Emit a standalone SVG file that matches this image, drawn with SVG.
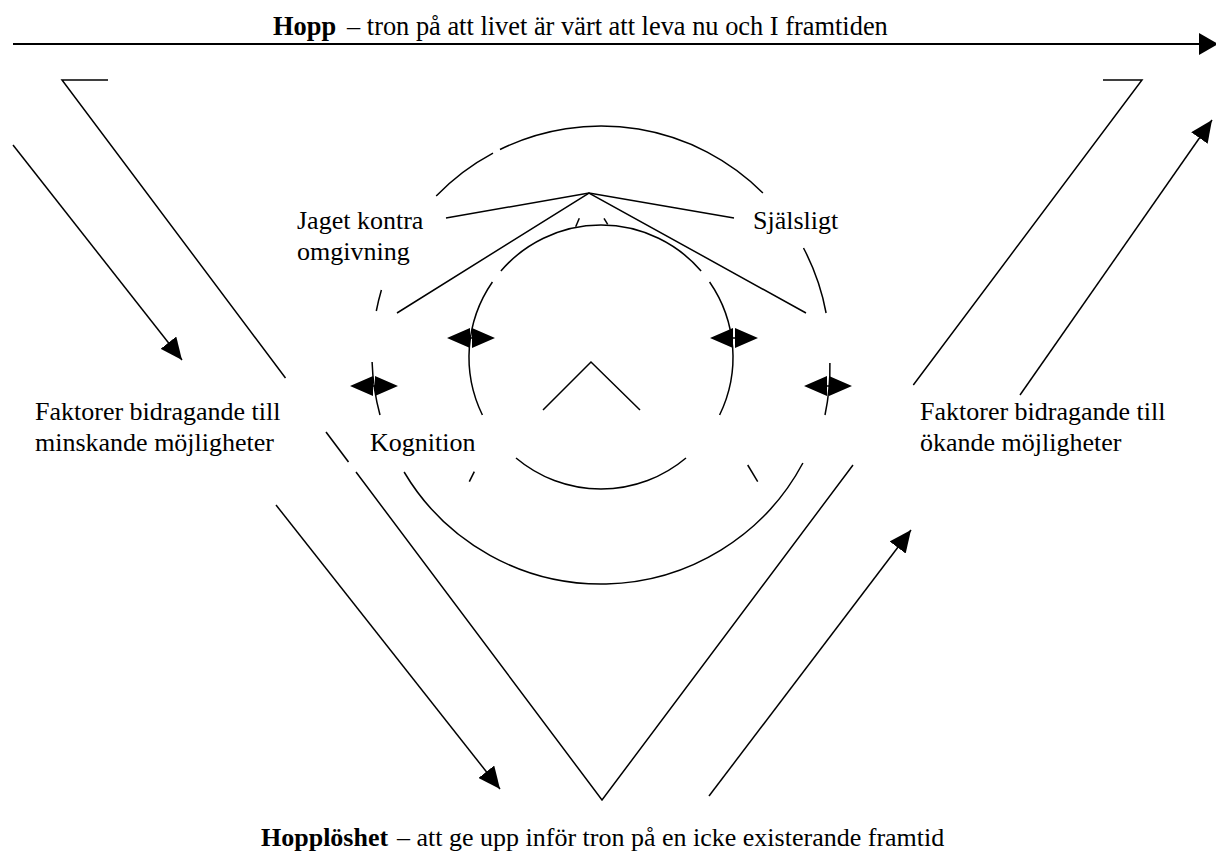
<svg xmlns="http://www.w3.org/2000/svg" width="1216" height="852" viewBox="0 0 1216 852">
<style>
  .ln{fill:none;stroke:#000;stroke-width:1.5;stroke-linecap:butt;stroke-linejoin:miter}
  .hd{fill:#000;stroke:none}
  .t{font-family:"Liberation Serif","Times New Roman",serif;font-size:26px;fill:#000}
  .b{font-weight:bold}
</style>
<defs>
  <marker id="ah" viewBox="0 0 22 20" refX="22" refY="10" markerWidth="22" markerHeight="20" markerUnits="userSpaceOnUse" orient="auto">
    <path d="M0,0 L22,10 L0,20 Z" fill="#000"/>
  </marker>
  <g id="dbl">
    <path d="M-24,0 L-1,-10 L-1,10 Z M24,0 L1,-10 L1,10 Z" class="hd"/>
    <line x1="-12" y1="0" x2="12" y2="0" class="ln"/>
  </g>
</defs>
<rect width="1216" height="852" fill="#fff"/>

<g id="hope-axis">
  <line x1="13" y1="44" x2="1200" y2="44" style="fill:none;stroke:#000;stroke-width:2"/>
  <path d="M1199,33 L1218,44 L1199,55 Z" class="hd"/>
  <text class="t" x="273" y="35" style="font-size:26.4px"><tspan class="b">Hopp</tspan><tspan x="347">– tron på att livet är värt att leva nu och I framtiden</tspan></text>
</g>

<g id="hopelessness">
  <text class="t" x="261" y="846"><tspan class="b">Hopplöshet</tspan><tspan x="397">– att ge upp inför tron på en icke existerande framtid</tspan></text>
</g>

<g id="v-shape">
  <polyline class="ln" points="108,80 62,80 285.5,378"/>
  <line class="ln" x1="326" y1="432" x2="348.5" y2="462"/>
  <polyline class="ln" points="356,472 602,800 853,465"/>
  <polyline class="ln" points="913.3,385 1142,80 1103,80"/>
</g>

<g id="outer-circle">
  <path class="ln" d="M436.2,196 A229,229 0 0 1 493,153.1"/>
  <path class="ln" d="M500,149.5 A229,229 0 0 1 762.9,193"/>
  <path class="ln" d="M803.5,248 A229,229 0 0 1 826.1,313"/>
  <path class="ln" d="M829.9,363 A229,229 0 0 1 825,415"/>
  <path class="ln" d="M802.9,463 A229,229 0 0 1 404.1,472"/>
  <path class="ln" d="M380,415 A229,229 0 0 1 372.1,362"/>
  <path class="ln" d="M376.3,311 A229,229 0 0 1 381.4,290"/>
</g>

<g id="inner-circle">
  <path class="ln" d="M500.9,271 A132,132 0 0 1 701.1,271"/>
  <path class="ln" d="M482.4,415 A132,132 0 0 1 492.4,282"/>
  <path class="ln" d="M709.6,282 A132,132 0 0 1 719.6,415"/>
  <path class="ln" d="M686,458 A132,132 0 0 1 516,458"/>
  <line class="ln" x1="575.7" y1="226.7" x2="579.3" y2="218.3"/>
  <line class="ln" x1="604" y1="218.3" x2="607.7" y2="224.3"/>
  <line class="ln" x1="469.3" y1="481.7" x2="474.3" y2="471.7"/>
  <line class="ln" x1="747.7" y1="465" x2="757.7" y2="481.7"/>
  <polyline class="ln" points="543,410 591,362 640,410"/>
</g>

<g id="labels">
  <text class="t" x="297" y="229">Jaget kontra</text>
  <text class="t" x="297" y="260">omgivning</text>
  <text class="t" x="753" y="229">Själsligt</text>
  <text class="t" x="370" y="451">Kognition</text>
  <text class="t" x="35" y="420">Faktorer bidragande till</text>
  <text class="t" x="35" y="451">minskande möjligheter</text>
  <text class="t" x="920" y="420">Faktorer bidragande till</text>
  <text class="t" x="920" y="451">ökande möjligheter</text>
</g>

<g id="connectors">
  <polyline class="ln" points="446,218 589,193 734,218"/>
  <polyline class="ln" points="397,313 589,193 806,313"/>
  <line class="ln" x1="13" y1="145" x2="182" y2="360" marker-end="url(#ah)"/>
  <line class="ln" x1="276" y1="505" x2="500" y2="789" marker-end="url(#ah)"/>
  <line class="ln" x1="709" y1="796" x2="911" y2="530" marker-end="url(#ah)"/>
  <line class="ln" x1="1020" y1="395" x2="1212" y2="120" marker-end="url(#ah)"/>
  <use href="#dbl" x="471" y="338"/>
  <use href="#dbl" x="734" y="338"/>
  <use href="#dbl" x="374" y="386"/>
  <use href="#dbl" x="828" y="386"/>
</g>
</svg>
